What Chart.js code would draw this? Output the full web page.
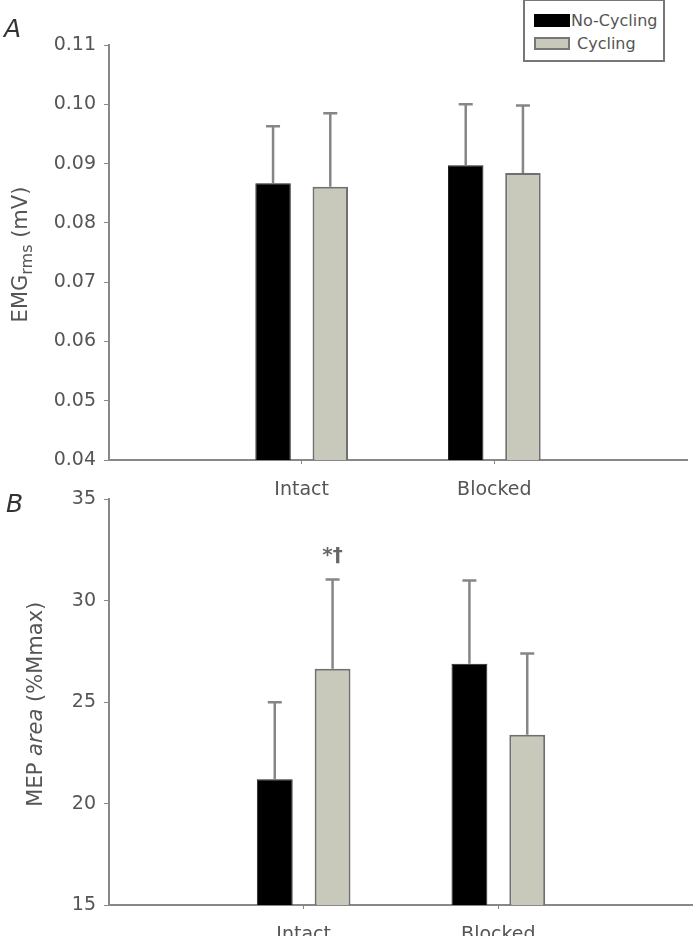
<!DOCTYPE html>
<html>
<head>
<meta charset="utf-8">
<script src="https://cdn.jsdelivr.net/npm/chart.js@4/dist/chart.umd.min.js"></script>
<style>
  html, body { margin: 0; padding: 0; background: #fff; }
  body { width: 693px; height: 936px; position: relative; overflow: hidden; font-family: "DejaVu Sans", sans-serif; }
  .panel { position: absolute; left: 0; width: 693px; }
  #panelA { top: 0; height: 500px; }
  #panelB { top: 480px; height: 456px; }
  .tag { position: absolute; font-style: italic; font-size: 25px; line-height: 25px; color: #333; }
  #legend {
    position: absolute; left: 523px; top: -1px; width: 142px; height: 63px;
    box-sizing: border-box; border: 2px solid #777; background: #fff;
    font-size: 16px; color: #555;
  }
  #legend .item { position: absolute; left: 9px; height: 14px; display: flex; align-items: center; }
  #legend .swatch { width: 36px; height: 13px; box-sizing: border-box; }
</style>
</head>
<body>
<div class="panel" id="panelA"><canvas id="chartA" width="693" height="500"></canvas></div>
<div class="panel" id="panelB"><canvas id="chartB" width="693" height="456"></canvas></div>
<div class="tag" style="left:4px; top:16px;">A</div>
<div class="tag" style="left:6px; top:491px;">B</div>
<div id="legend"></div>
<script>
// categories (empty ends keep the two groups at 1/3 and 2/3 of the axis)
const categories = ['', 'Intact', 'Blocked', ''];
const seriesNames = ['No-Cycling', 'Cycling'];
const seriesColors = ['#000000', '#c8c8bb'];
const seriesBorders = ['#222222', '#707070'];

// panel A: EMG rms (mV)
const emgNoCycling = [null, 0.0867, 0.0897, null];
const emgCycling = [null, 0.0861, 0.0884, null];
const emgNoCyclingErr = [null, 0.0096, 0.0103, null];
const emgCyclingErr = [null, 0.0124, 0.0114, null];
const emgTicks = [0.04, 0.05, 0.06, 0.07, 0.08, 0.09, 0.10, 0.11];

// panel B: MEP area (%Mmax)
const mepNoCycling = [null, 21.2, 26.9, null];
const mepCycling = [null, 26.65, 23.4, null];
const mepNoCyclingErr = [null, 3.8, 4.1, null];
const mepCyclingErr = [null, 4.4, 4.0, null];
const mepCyclingMarks = ['', '*\u2020', '', ''];
const mepTicks = [15, 20, 25, 30, 35];

Chart.defaults.font.family = '"DejaVu Sans", sans-serif';
Chart.defaults.color = '#555';

// legend
const legend = document.getElementById('legend');
seriesNames.forEach((name, i) => {
  const item = document.createElement('div');
  item.className = 'item';
  item.style.top = (i === 0 ? 12 : 35) + 'px';
  const sw = document.createElement('div');
  sw.className = 'swatch';
  sw.style.background = seriesColors[i];
  sw.style.border = i === 0 ? 'none' : '2px solid #777';
  const label = document.createElement('span');
  label.textContent = name;
  label.style.marginLeft = i === 0 ? '1px' : '7px';
  item.appendChild(sw);
  item.appendChild(label);
  legend.appendChild(item);
});

const errorBars = {
  id: 'errorBars',
  afterDatasetsDraw(chart) {
    const { ctx } = chart;
    const y = chart.scales.y;
    chart.data.datasets.forEach((ds, di) => {
      const meta = chart.getDatasetMeta(di);
      meta.data.forEach((bar, i) => {
        const v = ds.data[i];
        const e = ds.errors ? ds.errors[i] : null;
        if (v == null || e == null) {
          return;
        }
        const top = y.getPixelForValue(v + e);
        ctx.save();
        ctx.strokeStyle = '#868686';
        ctx.lineWidth = 2.5;
        ctx.beginPath();
        ctx.moveTo(bar.x, bar.y);
        ctx.lineTo(bar.x, top);
        ctx.moveTo(bar.x - 7, top);
        ctx.lineTo(bar.x + 7, top);
        ctx.stroke();
        const mark = ds.marks ? ds.marks[i] : '';
        if (mark) {
          ctx.fillStyle = '#666';
          ctx.font = 'bold 20px "DejaVu Sans", sans-serif';
          ctx.textAlign = 'center';
          ctx.textBaseline = 'middle';
          ctx.fillText(mark, bar.x, top - 24);
        }
        ctx.restore();
      });
    });
  },
};

// y title made of parts (subscript / italic) drawn rotated
function makeTitle(cx, dy, parts) {
  return {
    id: 'yTitle',
    afterDraw(chart) {
      const { ctx, chartArea } = chart;
      ctx.save();
      const fontFor = (p) => (p.italic ? 'italic ' : '') + p.size + 'px "DejaVu Sans", sans-serif';
      const widths = parts.map((p) => {
        ctx.font = fontFor(p);
        return ctx.measureText(p.text).width;
      });
      const total = widths.reduce((a, b) => a + b, 0);
      ctx.translate(cx, (chartArea.top + chartArea.bottom) / 2 + dy);
      ctx.rotate(-Math.PI / 2);
      ctx.fillStyle = '#555';
      ctx.textBaseline = 'middle';
      ctx.textAlign = 'left';
      let x = -total / 2;
      parts.forEach((p, i) => {
        ctx.font = fontFor(p);
        ctx.fillText(p.text, x, p.shift || 0);
        x += widths[i];
      });
      ctx.restore();
    },
  };
}

function makeDatasets(a, b, aErr, bErr, bMarks) {
  return [
    {
      label: seriesNames[0], data: a, errors: aErr,
      backgroundColor: seriesColors[0], borderColor: seriesBorders[0], borderWidth: 1,
    },
    {
      label: seriesNames[1], data: b, errors: bErr, marks: bMarks,
      backgroundColor: seriesColors[1], borderColor: seriesBorders[1], borderWidth: 2,
    },
  ];
}

function makeOptions(ticks, decimals, padding, xHeight) {
  return {
    responsive: false,
    animation: false,
    devicePixelRatio: 1,
    categoryPercentage: 0.594,
    barPercentage: 0.62,
    layout: { padding },
    plugins: {
      legend: { display: false },
      tooltip: { enabled: false },
    },
    scales: {
      x: {
        type: 'category',
        offset: false,
        grid: {
          offset: false,
          drawOnChartArea: false,
          tickLength: 4,
          color: (c) => (c.index === 1 || c.index === 2 ? '#888' : 'rgba(0,0,0,0)'),
        },
        border: { color: '#888', width: 2 },
        ticks: { padding: 15, autoSkip: false, maxRotation: 0, font: { size: 19 }, color: '#555' },
        afterFit: (s) => {
          s.height = xHeight;
          s.paddingLeft = 0;
          s.paddingRight = 0;
        },
      },
      y: {
        min: ticks[0],
        max: ticks[ticks.length - 1],
        afterBuildTicks: (s) => { s.ticks = ticks.map((v) => ({ value: v })); },
        grid: { drawOnChartArea: false, tickLength: 5, color: '#888' },
        border: { color: '#888', width: 2 },
        ticks: {
          padding: 8,
          font: { size: 19 },
          color: '#555',
          callback: (v) => Number(v).toFixed(decimals),
        },
        afterFit: (s) => { s.width = 109; },
      },
    },
  };
}

new Chart(document.getElementById('chartA').getContext('2d'), {
  type: 'bar',
  data: {
    labels: categories,
    datasets: makeDatasets(emgNoCycling, emgCycling, emgNoCyclingErr, emgCyclingErr, null),
  },
  options: makeOptions(emgTicks, 2, { top: 45, right: 6, left: 0, bottom: 0 }, 40),
  plugins: [errorBars, makeTitle(22, 2, [
    { text: 'EMG', size: 21 },
    { text: 'rms', size: 16, shift: 6 },
    { text: ' (mV)', size: 21 },
  ])],
});

new Chart(document.getElementById('chartB').getContext('2d'), {
  type: 'bar',
  data: {
    labels: categories,
    datasets: makeDatasets(mepNoCycling, mepCycling, mepNoCyclingErr, mepCyclingErr, mepCyclingMarks),
  },
  options: makeOptions(mepTicks, 0, { top: 15, right: 0, left: 0, bottom: 0 }, 31),
  plugins: [errorBars, makeTitle(37, 2, [
    { text: 'MEP ', size: 21 },
    { text: 'area', size: 21, italic: true },
    { text: ' (%Mmax)', size: 21 },
  ])],
});
</script>
</body>
</html>
